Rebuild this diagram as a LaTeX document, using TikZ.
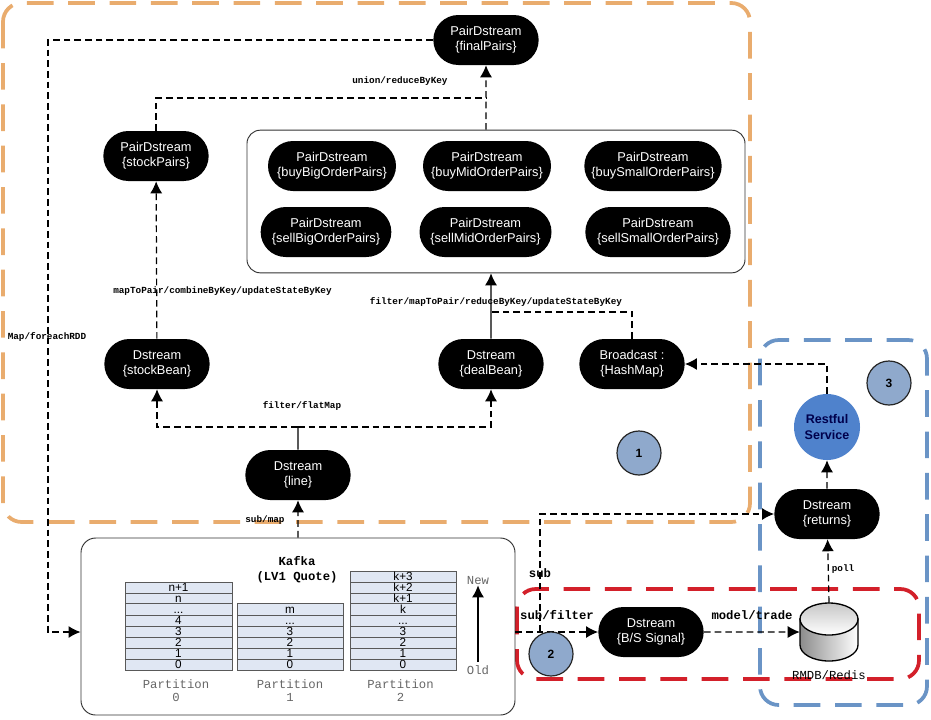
\documentclass[tikz,border=0pt]{standalone}
\usepackage{fontspec}
\setsansfont{Liberation Sans}
\setmonofont{Liberation Mono}
\usepackage{xcolor}
\usetikzlibrary{shapes,arrows.meta,positioning}
\definecolor{orangezone}{HTML}{E9AC6E}
\definecolor{bluezone}{HTML}{6A94C6}
\definecolor{redzone}{HTML}{D3202A}
\definecolor{badgeblue}{HTML}{8FA9CC}
\definecolor{restblue}{HTML}{4F82CC}
\definecolor{cellblue}{HTML}{E0E7F3}
\newcommand{\celldots}{...}
\tikzset{
  stream/.style={rounded rectangle,fill=black,text=white,align=center,minimum height=37.5pt,inner sep=1pt,font=\sffamily\fontsize{9.6}{11.2}\selectfont},
  zone/.style={rounded corners=14pt,line width=2.8pt,dash pattern=on 20pt off 11pt},
  flow/.style={line width=0.9pt,dash pattern=on 5pt off 3pt,-{Latex[length=9pt,width=9pt]}},
  badge/.style={circle,draw=black!85,line width=0.9pt,fill=badgeblue,minimum size=33pt,inner sep=0pt,font=\sffamily\bfseries\fontsize{9}{11}\selectfont},
  oplabel/.style={font=\ttfamily\bfseries\fontsize{7}{8}\selectfont,inner sep=0pt},
  biglabel/.style={font=\ttfamily\bfseries\fontsize{9.2}{11}\selectfont,inner sep=0pt},
  partlabel/.style={font=\ttfamily\fontsize{9.2}{11}\selectfont,text=black!60,inner sep=0pt},
  cellbox/.style={draw=black!65,line width=0.6pt,fill=cellblue},
  celltext/.style={font=\sffamily\fontsize{8.8}{10}\selectfont,inner sep=0pt,text height=6.4pt,text depth=0pt}
}
\begin{document}
\begin{tikzpicture}[x=0.75pt,y=-0.75pt]
\useasboundingbox (0,0) rectangle (931,719);
% zones
\draw[zone,draw=orangezone] (3,3) rectangle (750,522);
\draw[zone,draw=bluezone] (760,340) rectangle (927,705);
\draw[zone,draw=redzone] (517,589) rectangle (919,679);
% top half
\node[stream,minimum width=81pt] (final) at (486,40) {PairDstream\\\{finalPairs\}};
\node[stream,minimum width=81pt] (stockpairs) at (156,156) {PairDstream\\\{stockPairs\}};
\node[draw=black!80,line width=0.7pt,rounded corners=10pt,minimum width=373.5pt,minimum height=107pt,inner sep=0pt] (group) at (496,201.5) {};
\node[stream,minimum width=98pt] (buybig) at (332,166) {PairDstream\\\{buyBigOrderPairs\}};
\node[stream,minimum width=98pt] (buymid) at (487,166) {PairDstream\\\{buyMidOrderPairs\}};
\node[stream,minimum width=105pt] (buysmall) at (653,166) {PairDstream\\\{buySmallOrderPairs\}};
\node[stream,minimum width=100pt] (sellbig) at (326,232) {PairDstream\\\{sellBigOrderPairs\}};
\node[stream,minimum width=101pt] (sellmid) at (485.5,232) {PairDstream\\\{sellMidOrderPairs\}};
\node[stream,minimum width=111pt] (sellsmall) at (658,232) {PairDstream\\\{sellSmallOrderPairs\}};
\node[stream,minimum width=81pt] (stockbean) at (157,364) {Dstream\\\{stockBean\}};
\node[stream,minimum width=81pt] (dealbean) at (491,364) {Dstream\\\{dealBean\}};
\node[stream,minimum width=81pt] (cast) at (632,364) {Broadcast :\\\{HashMap\}};
\node[stream,minimum width=81pt] (line) at (298,475) {Dstream\\\{line\}};
\node[stream,minimum width=81pt] (returns) at (827,514) {Dstream\\\{returns\}};
\node[stream,minimum width=81pt] (signal) at (651,632) {Dstream\\\{B/S Signal\}};
\node[circle,fill=restblue,minimum size=49.5pt,inner sep=0pt,align=center,text=blue!30!black,font=\sffamily\bfseries\fontsize{9.4}{11.4}\selectfont] (rest) at (827,427) {Restful\\Service};
% database drum
\node[minimum width=43.5pt,minimum height=43.5pt,inner sep=0pt] (db) at (829,632) {};
\draw[left color=black!45,right color=white,draw=black,line width=1pt] (800,619) -- (800,645) arc[start angle=180,end angle=360,x radius=21.75pt,y radius=12pt] -- (858,619) -- cycle;
\draw[top color=black!22,bottom color=white,draw=black,line width=1pt] (829,619) ellipse[x radius=21.75pt,y radius=12pt];
\node[biglabel,font=\ttfamily\fontsize{9.2}{11}\selectfont] (dbname) at (829,675) {RMDB/Redis};
% kafka
\node[draw=black!80,line width=0.7pt,rounded corners=11pt,minimum width=325.5pt,minimum height=132.75pt,inner sep=0pt] (kafka) at (298,626.5) {};
\node[biglabel,align=center] (kafkaname) at (297,570) {Kafka\\(LV1 Quote)};
\foreach \ya/\yb/\cell in {582/593/n+1,593/603/n,603/615/\celldots,615/626/4,626/637/3,637/648/2,648/659/1,659/670/0}
  \draw[cellbox] (125,\ya) rectangle (232,\yb) node[midway,celltext] {\cell};
\foreach \ya/\yb/\cell in {603/615/m,615/626/\celldots,626/637/3,637/648/2,648/659/1,659/670/0}
  \draw[cellbox] (237,\ya) rectangle (343,\yb) node[midway,celltext] {\cell};
\foreach \ya/\yb/\cell in {571/582/k+3,582/593/k+2,593/603/k+1,603/615/k,615/626/\celldots,626/637/3,637/648/2,648/659/1,659/670/0}
  \draw[cellbox] (350,\ya) rectangle (456,\yb) node[midway,celltext] {\cell};
\foreach \xp/\num in {176/0,290/1,400.5/2} {
  \node[partlabel] (part\num) at (\xp,684) {Partition};
  \node[partlabel,below=3.5pt of part\num] (num\num) {\num};
}
\node[partlabel] (newer) at (478,581) {New};
\node[partlabel] (older) at (478,670) {Old};
\draw[line width=0.9pt,-{Latex[length=9pt,width=9pt]}] (older.north) ++(0,-3) coordinate (oldtop) (oldtop) -- (newer.south);
% connectors
\coordinate (unionjoin) at (486,98);
\coordinate (linefork) at (298,427);
\coordinate (castjoin) at (491,312);
\coordinate (mapturn) at (48,632);
\coordinate (subfork) at (540,632);
\draw[flow] (group.north -| final) -- (final);
\draw[flow,-] (stockpairs) |- (unionjoin);
\draw[flow] (stockbean) -- (stockpairs);
\draw[line width=0.9pt] (line) -- (linefork);
\draw[flow] (linefork) -| (stockbean);
\draw[flow] (linefork) -| (dealbean);
\draw[line width=0.9pt,-{Latex[length=9pt,width=9pt]}] (dealbean) -- (dealbean |- group.south);
\draw[flow,-] (cast) |- (castjoin);
\draw[flow] (kafka.north -| line) -- (line);
\draw[flow] (final) -| (mapturn) -- (mapturn -| kafka.west);
\draw[flow] (rest) |- (cast);
\draw[flow] (returns) -- (rest);
\draw[flow] (db.north) -- (returns);
\draw[flow] (kafka.east |- signal) -- (signal);
\draw[flow] (signal) -- (signal -| db.west);
\draw[flow] (subfork) |- (returns);
% labels
\node[oplabel] (unionop) at (400,81) {union/reduceByKey};
\node[oplabel] (mapop) at (222.5,291) {mapToPair/combineByKey/updateStateByKey};
\node[oplabel] (filterop) at (496,302) {filter/mapToPair/reduceByKey/updateStateByKey};
\node[oplabel] (flatop) at (302,406) {filter/flatMap};
\node[oplabel] (subop) at (265,520) {sub/map};
\node[oplabel] (rddop) at (47,337) {Map/foreachRDD};
\node[oplabel] (pollop) at (843,569) {poll};
\node[biglabel] (subname) at (540,573) {sub};
\node[biglabel] (filtername) at (557,615) {sub/filter};
\node[biglabel] (modelname) at (752,615) {model/trade};
% badges
\node[badge] (one) at (639,453) {1};
\node[badge] (two) at (551,654) {2};
\node[badge] (three) at (889,383) {3};
\end{tikzpicture}
\end{document}
